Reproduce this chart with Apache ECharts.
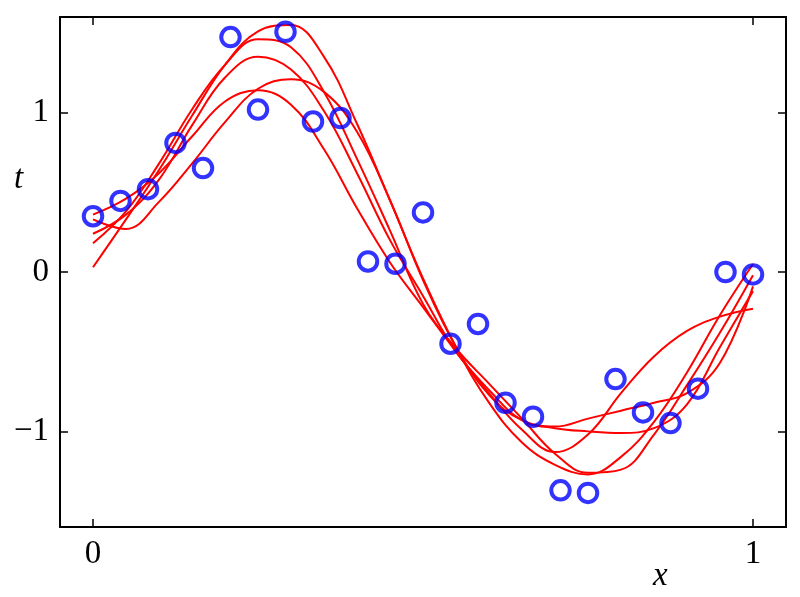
<!DOCTYPE html>
<html>
<head>
<meta charset="utf-8">
<script src="https://cdn.jsdelivr.net/npm/echarts@6/dist/echarts.min.js"></script>
<style>
html,body{margin:0;padding:0;background:#fff;}
#chart{width:800px;height:597px;}
</style>
</head>
<body>
<div id="chart"></div>
<script>
// Observed data points (x, t)
const pointX = [0,1/24,2/24,3/24,4/24,5/24,6/24,7/24,8/24,9/24,10/24,11/24,12/24,13/24,14/24,15/24,16/24,17/24,18/24,19/24,20/24,21/24,22/24,23/24,1];
const pointT = [0.35,0.446,0.52,0.81,0.652,1.474,1.019,1.507,0.944,0.966,0.066,0.052,0.374,-0.45,-0.326,-0.82,-0.908,-1.37,-1.386,-0.672,-0.881,-0.948,-0.732,0.0,-0.015];

// Sample curves y(x, w) read at these x values
const curveX = [0,0.05,0.1,0.15,0.2,0.25,0.3,0.35,0.4,0.45,0.5,0.55,0.6,0.65,0.7,0.75,0.8,0.85,0.9,0.95,1];
const curve1 = [0.03,0.33,0.64,0.98,1.30,1.51,1.55,1.35,0.93,0.45,-0.04,-0.47,-0.82,-1.07,-1.21,-1.27,-1.16,-0.94,-0.63,-0.27,0.05];
const curve2 = [0.18,0.38,0.68,1.02,1.30,1.46,1.41,1.13,0.71,0.26,-0.20,-0.48,-0.70,-0.92,-1.14,-1.26,-1.24,-1.02,-0.71,-0.38,-0.02];
const curve3 = [0.24,0.36,0.58,0.92,1.22,1.35,1.27,1.01,0.62,0.20,-0.15,-0.50,-0.74,-0.93,-0.98,-1.00,-1.01,-0.98,-0.83,-0.47,-0.12];
const curve4 = [0.33,0.27,0.44,0.68,0.94,1.15,1.21,1.13,0.88,0.45,-0.05,-0.47,-0.77,-0.93,-0.97,-0.92,-0.87,-0.82,-0.76,-0.57,-0.09];
const curve5 = [0.36,0.46,0.62,0.85,1.07,1.14,1.05,0.77,0.40,0.06,-0.22,-0.50,-0.76,-0.99,-1.13,-1.02,-0.76,-0.53,-0.37,-0.28,-0.23];

const xTicks = [0, 1];
const yTicks = [-1, 0, 1];

const curves = [curve1, curve2, curve3, curve4, curve5];
const serif = "'Liberation Serif', 'Times New Roman', serif";
const fmt = v => (v < 0 ? '\u2212' + Math.abs(v) : String(v));

function axisCommon(showLabel, ticks) {
  return {
    axisLine: {show: true, onZero: false, lineStyle: {color: '#000', width: 2}},
    axisTick: {show: true, inside: true, length: 8, customValues: ticks, lineStyle: {color: '#000', width: 1.5}},
    axisLabel: {show: showLabel, customValues: ticks, formatter: fmt, fontFamily: serif, fontSize: 33, color: '#000', margin: 11},
    splitLine: {show: false}
  };
}

const chart = echarts.init(document.getElementById('chart'), null, {renderer: 'canvas'});
const option = {
  animation: false,
  backgroundColor: '#fff',
  grid: {left: 60, right: 14, top: 17, bottom: 70, containLabel: false},
  xAxis: [
    Object.assign({type: 'value', min: -0.05, max: 1.05, position: 'bottom'}, axisCommon(true, xTicks)),
    Object.assign({type: 'value', min: -0.05, max: 1.05, position: 'top'}, axisCommon(false, xTicks))
  ],
  yAxis: [
    Object.assign({type: 'value', min: -1.6, max: 1.6, position: 'left'}, axisCommon(true, yTicks)),
    Object.assign({type: 'value', min: -1.6, max: 1.6, position: 'right'}, axisCommon(false, yTicks))
  ],
  graphic: [
    {type: 'text', left: 653, top: 560, style: {text: 'x', font: "italic 33px 'Liberation Serif'", fill: '#000'}},
    {type: 'text', left: 14, top: 163, style: {text: 't', font: "italic 33px 'Liberation Serif'", fill: '#000'}}
  ],
  series: curves.map((c, i) => ({
    name: 'sample ' + (i + 1),
    type: 'line',
    xAxisIndex: 0, yAxisIndex: 0,
    data: curveX.map((x, j) => [x, c[j]]),
    smooth: 0.4,
    symbol: 'none',
    lineStyle: {color: '#ff0000', width: 2},
    z: 2
  })).concat([{
    name: 'data',
    type: 'scatter',
    xAxisIndex: 0, yAxisIndex: 0,
    data: pointX.map((x, j) => [x, pointT[j]]),
    symbol: 'circle',
    symbolSize: 18.5,
    itemStyle: {color: 'rgba(0,0,0,0)', borderColor: '#0000ff', borderWidth: 4},
    z: 5
  }])
};
chart.setOption(option);
</script>
</body>
</html>
